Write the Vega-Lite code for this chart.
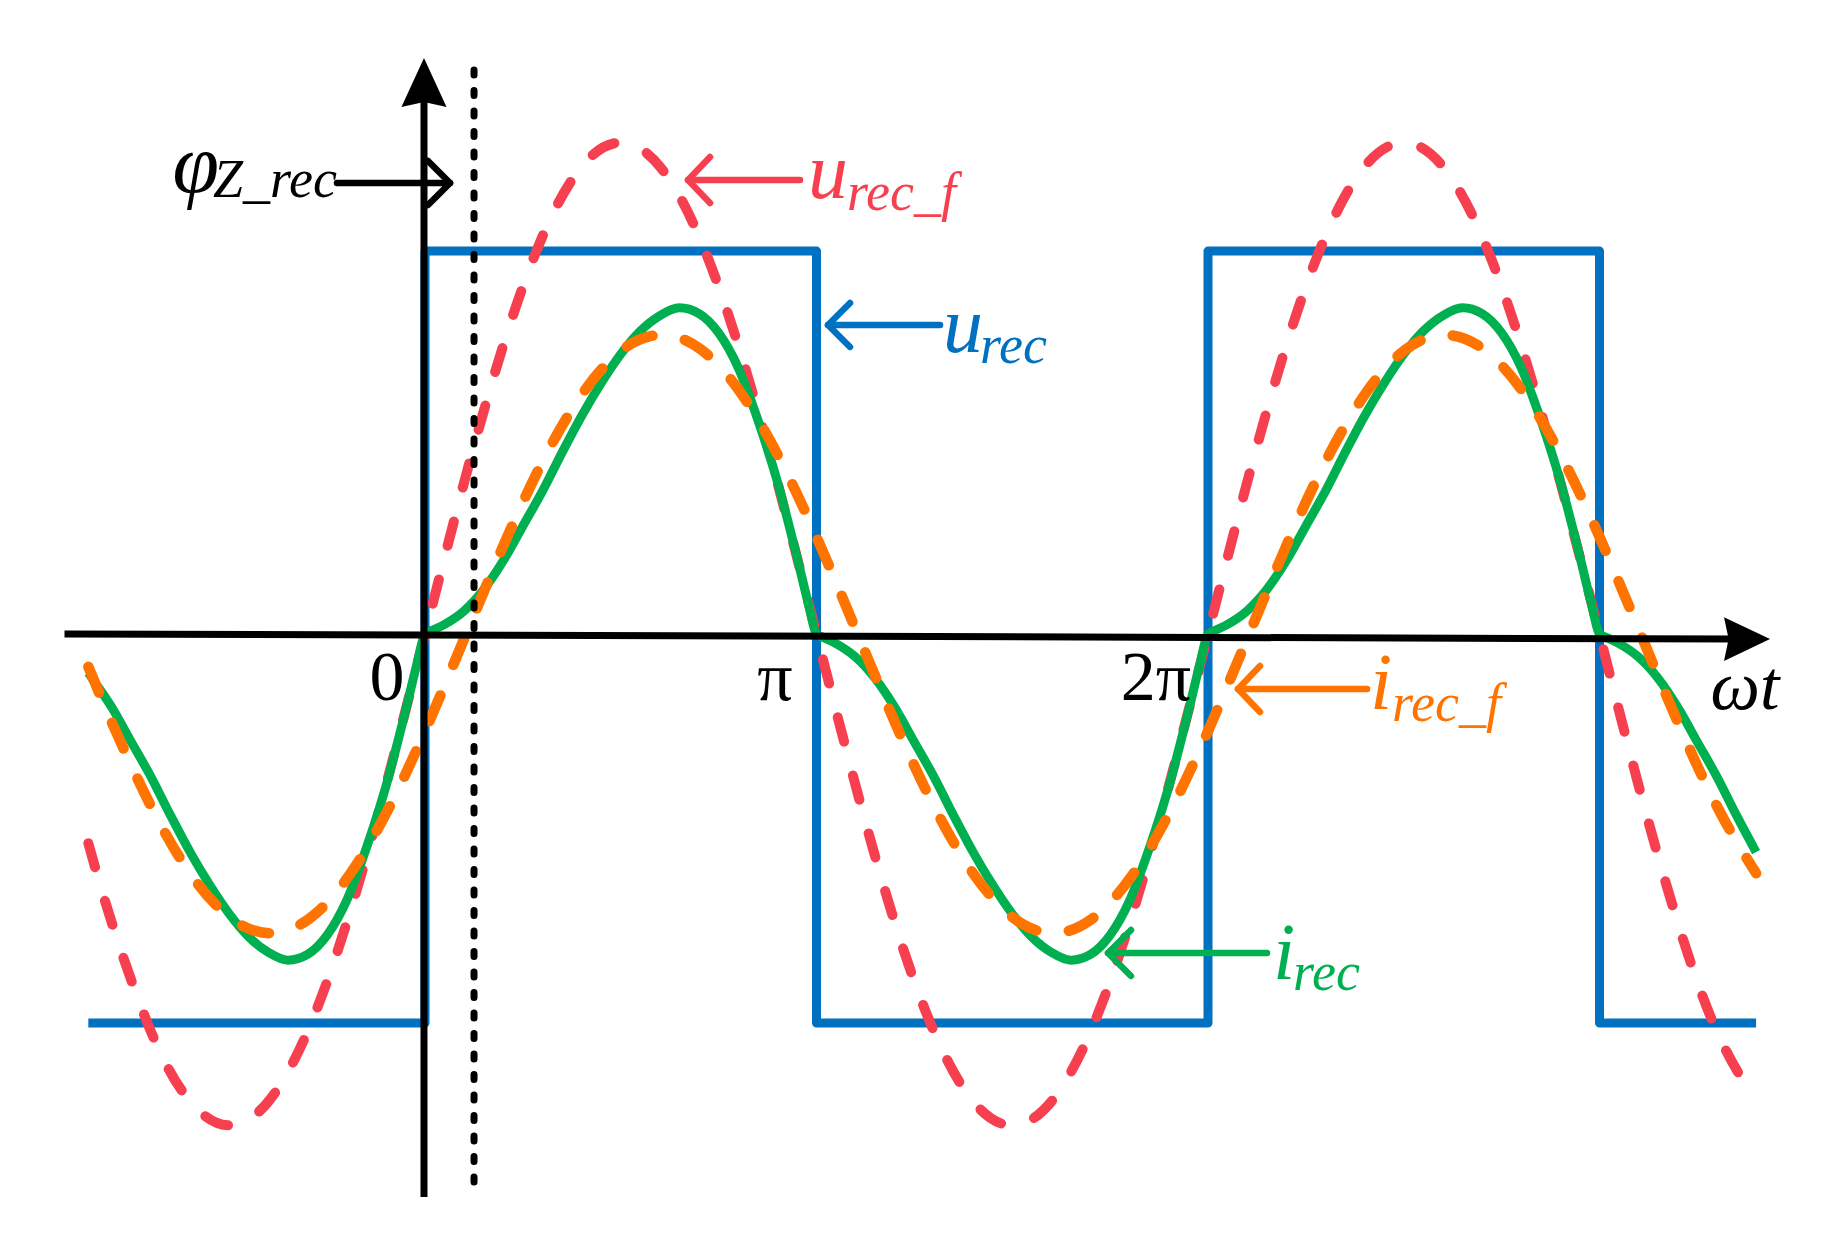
{
"$schema": "https://vega.github.io/schema/vega-lite/v6.json",
"width": 1840, "height": 1240, "padding": 0, "autosize": {"type": "none"},
"config": {"view": {"stroke": null}},
"datasets": {
"blue": [
{"s":"u_rec","i":0,"t":-0.86,"v":-1.008},{"s":"u_rec","i":1,"t":0,"v":-1.008},{"s":"u_rec","i":2,"t":0,"v":0.992},{"s":"u_rec","i":3,"t":1,"v":0.992},{"s":"u_rec","i":4,"t":1,"v":-1.008},{"s":"u_rec","i":5,"t":2,"v":-1.008},{"s":"u_rec","i":6,"t":2,"v":0.992},{"s":"u_rec","i":7,"t":3,"v":0.992},{"s":"u_rec","i":8,"t":3,"v":-1.008},{"s":"u_rec","i":9,"t":3.4,"v":-1.008}
],
"red": [
{"s":"u_rec_f","t":-0.86,"v":-0.542},{"s":"u_rec_f","t":-0.8,"v":-0.748},{"s":"u_rec_f","t":-0.7,"v":-1.03},{"s":"u_rec_f","t":-0.6,"v":-1.211},{"s":"u_rec_f","t":-0.5,"v":-1.273},{"s":"u_rec_f","t":-0.4,"v":-1.211},{"s":"u_rec_f","t":-0.3,"v":-1.03},{"s":"u_rec_f","t":-0.2,"v":-0.748},{"s":"u_rec_f","t":-0.1,"v":-0.393},{"s":"u_rec_f","t":0,"v":0},
{"s":"u_rec_f","t":0.1,"v":0.393},{"s":"u_rec_f","t":0.2,"v":0.748},{"s":"u_rec_f","t":0.3,"v":1.03},{"s":"u_rec_f","t":0.4,"v":1.211},{"s":"u_rec_f","t":0.5,"v":1.273},{"s":"u_rec_f","t":0.6,"v":1.211},{"s":"u_rec_f","t":0.7,"v":1.03},{"s":"u_rec_f","t":0.8,"v":0.748},{"s":"u_rec_f","t":0.9,"v":0.393},{"s":"u_rec_f","t":1,"v":0},
{"s":"u_rec_f","t":1.1,"v":-0.393},{"s":"u_rec_f","t":1.2,"v":-0.748},{"s":"u_rec_f","t":1.3,"v":-1.03},{"s":"u_rec_f","t":1.4,"v":-1.211},{"s":"u_rec_f","t":1.5,"v":-1.273},{"s":"u_rec_f","t":1.6,"v":-1.211},{"s":"u_rec_f","t":1.7,"v":-1.03},{"s":"u_rec_f","t":1.8,"v":-0.748},{"s":"u_rec_f","t":1.9,"v":-0.393},{"s":"u_rec_f","t":2,"v":0},
{"s":"u_rec_f","t":2.1,"v":0.393},{"s":"u_rec_f","t":2.2,"v":0.748},{"s":"u_rec_f","t":2.3,"v":1.03},{"s":"u_rec_f","t":2.4,"v":1.211},{"s":"u_rec_f","t":2.5,"v":1.273},{"s":"u_rec_f","t":2.6,"v":1.211},{"s":"u_rec_f","t":2.7,"v":1.03},{"s":"u_rec_f","t":2.8,"v":0.748},{"s":"u_rec_f","t":2.9,"v":0.393},{"s":"u_rec_f","t":3,"v":0},
{"s":"u_rec_f","t":3.1,"v":-0.393},{"s":"u_rec_f","t":3.2,"v":-0.748},{"s":"u_rec_f","t":3.3,"v":-1.03},{"s":"u_rec_f","t":3.4,"v":-1.211}
],
"orange": [
{"s":"i_rec_f","t":-0.86,"v":-0.085},{"s":"i_rec_f","t":-0.795,"v":-0.24},{"s":"i_rec_f","t":-0.695,"v":-0.456},{"s":"i_rec_f","t":-0.595,"v":-0.627},{"s":"i_rec_f","t":-0.495,"v":-0.737},{"s":"i_rec_f","t":-0.395,"v":-0.775},{"s":"i_rec_f","t":-0.295,"v":-0.737},{"s":"i_rec_f","t":-0.195,"v":-0.627},{"s":"i_rec_f","t":-0.095,"v":-0.456},{"s":"i_rec_f","t":0.005,"v":-0.24},
{"s":"i_rec_f","t":0.105,"v":0},{"s":"i_rec_f","t":0.205,"v":0.24},{"s":"i_rec_f","t":0.305,"v":0.456},{"s":"i_rec_f","t":0.405,"v":0.627},{"s":"i_rec_f","t":0.505,"v":0.737},{"s":"i_rec_f","t":0.605,"v":0.775},{"s":"i_rec_f","t":0.705,"v":0.737},{"s":"i_rec_f","t":0.805,"v":0.627},{"s":"i_rec_f","t":0.905,"v":0.456},{"s":"i_rec_f","t":1.005,"v":0.24},
{"s":"i_rec_f","t":1.105,"v":0},{"s":"i_rec_f","t":1.205,"v":-0.24},{"s":"i_rec_f","t":1.305,"v":-0.456},{"s":"i_rec_f","t":1.405,"v":-0.627},{"s":"i_rec_f","t":1.505,"v":-0.737},{"s":"i_rec_f","t":1.605,"v":-0.775},{"s":"i_rec_f","t":1.705,"v":-0.737},{"s":"i_rec_f","t":1.805,"v":-0.627},{"s":"i_rec_f","t":1.905,"v":-0.456},{"s":"i_rec_f","t":2.005,"v":-0.24},
{"s":"i_rec_f","t":2.105,"v":0},{"s":"i_rec_f","t":2.205,"v":0.24},{"s":"i_rec_f","t":2.305,"v":0.456},{"s":"i_rec_f","t":2.405,"v":0.627},{"s":"i_rec_f","t":2.505,"v":0.737},{"s":"i_rec_f","t":2.605,"v":0.775},{"s":"i_rec_f","t":2.705,"v":0.737},{"s":"i_rec_f","t":2.805,"v":0.627},{"s":"i_rec_f","t":2.905,"v":0.456},{"s":"i_rec_f","t":3.005,"v":0.24},
{"s":"i_rec_f","t":3.105,"v":0},{"s":"i_rec_f","t":3.205,"v":-0.24},{"s":"i_rec_f","t":3.305,"v":-0.456},{"s":"i_rec_f","t":3.4,"v":-0.62}
],
"green": [
{"s":"i_rec","t":-0.86,"v":-0.1},{"s":"i_rec","t":-0.85,"v":-0.115},{"s":"i_rec","t":-0.8,"v":-0.19},{"s":"i_rec","t":-0.75,"v":-0.28},{"s":"i_rec","t":-0.7,"v":-0.37},{"s":"i_rec","t":-0.65,"v":-0.47},{"s":"i_rec","t":-0.6,"v":-0.565},{"s":"i_rec","t":-0.55,"v":-0.65},{"s":"i_rec","t":-0.5,"v":-0.725},{"s":"i_rec","t":-0.45,"v":-0.785},{"s":"i_rec","t":-0.4,"v":-0.825},{"s":"i_rec","t":-0.35,"v":-0.845},{"s":"i_rec","t":-0.3,"v":-0.83},{"s":"i_rec","t":-0.25,"v":-0.78},{"s":"i_rec","t":-0.2,"v":-0.69},{"s":"i_rec","t":-0.15,"v":-0.555},{"s":"i_rec","t":-0.1,"v":-0.395},{"s":"i_rec","t":-0.05,"v":-0.2},{"s":"i_rec","t":-0.02,"v":-0.075},
{"s":"i_rec","t":0,"v":0},{"s":"i_rec","t":0.02,"v":0.01},{"s":"i_rec","t":0.05,"v":0.025},{"s":"i_rec","t":0.1,"v":0.06},{"s":"i_rec","t":0.15,"v":0.115},{"s":"i_rec","t":0.2,"v":0.19},{"s":"i_rec","t":0.25,"v":0.28},{"s":"i_rec","t":0.3,"v":0.37},{"s":"i_rec","t":0.35,"v":0.47},{"s":"i_rec","t":0.4,"v":0.565},{"s":"i_rec","t":0.45,"v":0.65},{"s":"i_rec","t":0.5,"v":0.725},{"s":"i_rec","t":0.55,"v":0.785},{"s":"i_rec","t":0.6,"v":0.825},{"s":"i_rec","t":0.65,"v":0.845},{"s":"i_rec","t":0.7,"v":0.83},{"s":"i_rec","t":0.75,"v":0.78},{"s":"i_rec","t":0.8,"v":0.69},{"s":"i_rec","t":0.85,"v":0.555},{"s":"i_rec","t":0.9,"v":0.395},{"s":"i_rec","t":0.95,"v":0.2},{"s":"i_rec","t":0.98,"v":0.075},
{"s":"i_rec","t":1,"v":0},{"s":"i_rec","t":1.02,"v":-0.01},{"s":"i_rec","t":1.05,"v":-0.025},{"s":"i_rec","t":1.1,"v":-0.06},{"s":"i_rec","t":1.15,"v":-0.115},{"s":"i_rec","t":1.2,"v":-0.19},{"s":"i_rec","t":1.25,"v":-0.28},{"s":"i_rec","t":1.3,"v":-0.37},{"s":"i_rec","t":1.35,"v":-0.47},{"s":"i_rec","t":1.4,"v":-0.565},{"s":"i_rec","t":1.45,"v":-0.65},{"s":"i_rec","t":1.5,"v":-0.725},{"s":"i_rec","t":1.55,"v":-0.785},{"s":"i_rec","t":1.6,"v":-0.825},{"s":"i_rec","t":1.65,"v":-0.845},{"s":"i_rec","t":1.7,"v":-0.83},{"s":"i_rec","t":1.75,"v":-0.78},{"s":"i_rec","t":1.8,"v":-0.69},{"s":"i_rec","t":1.85,"v":-0.555},{"s":"i_rec","t":1.9,"v":-0.395},{"s":"i_rec","t":1.95,"v":-0.2},{"s":"i_rec","t":1.98,"v":-0.075},
{"s":"i_rec","t":2,"v":0},{"s":"i_rec","t":2.02,"v":0.01},{"s":"i_rec","t":2.05,"v":0.025},{"s":"i_rec","t":2.1,"v":0.06},{"s":"i_rec","t":2.15,"v":0.115},{"s":"i_rec","t":2.2,"v":0.19},{"s":"i_rec","t":2.25,"v":0.28},{"s":"i_rec","t":2.3,"v":0.37},{"s":"i_rec","t":2.35,"v":0.47},{"s":"i_rec","t":2.4,"v":0.565},{"s":"i_rec","t":2.45,"v":0.65},{"s":"i_rec","t":2.5,"v":0.725},{"s":"i_rec","t":2.55,"v":0.785},{"s":"i_rec","t":2.6,"v":0.825},{"s":"i_rec","t":2.65,"v":0.845},{"s":"i_rec","t":2.7,"v":0.83},{"s":"i_rec","t":2.75,"v":0.78},{"s":"i_rec","t":2.8,"v":0.69},{"s":"i_rec","t":2.85,"v":0.555},{"s":"i_rec","t":2.9,"v":0.395},{"s":"i_rec","t":2.95,"v":0.2},{"s":"i_rec","t":2.98,"v":0.075},
{"s":"i_rec","t":3,"v":0},{"s":"i_rec","t":3.02,"v":-0.01},{"s":"i_rec","t":3.05,"v":-0.025},{"s":"i_rec","t":3.1,"v":-0.06},{"s":"i_rec","t":3.15,"v":-0.115},{"s":"i_rec","t":3.2,"v":-0.19},{"s":"i_rec","t":3.25,"v":-0.28},{"s":"i_rec","t":3.3,"v":-0.37},{"s":"i_rec","t":3.35,"v":-0.47},{"s":"i_rec","t":3.4,"v":-0.565}
],
"lines": [
{"s":"axis","k":"solid","id":"hx","i":0,"t":-0.9208,"v":0},{"s":"axis","k":"solid","id":"hx","i":1,"t":3.3589,"v":-0.013},
{"s":"axis","k":"solid","id":"vy","i":0,"t":-0.0026,"v":-1.4585},{"s":"axis","k":"solid","id":"vy","i":1,"t":-0.0026,"v":1.38},
{"s":"axis","k":"dot","id":"dot","i":0,"t":0.1252,"v":1.4611},{"s":"axis","k":"dot","id":"dot","i":1,"t":0.1252,"v":-1.4585}
],
"heads": [
{"s":"axis","dir":"up","t":-0.0026,"v":1.4288},
{"s":"axis","dir":"right","t":3.3768,"v":-0.013}
],
"arrows": [
{"s":"axis","id":"phis","i":0,"t":-0.2248,"v":1.1684},{"s":"axis","id":"phis","i":1,"t":0.0639,"v":1.1684},
{"s":"axis","id":"phih","i":0,"t":0.0077,"v":1.2254},{"s":"axis","id":"phih","i":1,"t":0.0639,"v":1.1684},{"s":"axis","id":"phih","i":2,"t":0.0077,"v":1.1114},
{"s":"u_rec_f","id":"urfs","i":0,"t":0.9579,"v":1.1762},{"s":"u_rec_f","id":"urfs","i":1,"t":0.6718,"v":1.1762},
{"s":"u_rec_f","id":"urfh","i":0,"t":0.728,"v":1.2358},{"s":"u_rec_f","id":"urfh","i":1,"t":0.6718,"v":1.1762},{"s":"u_rec_f","id":"urfh","i":2,"t":0.728,"v":1.1166},
{"s":"u_rec","id":"urs","i":0,"t":1.3155,"v":0.8005},{"s":"u_rec","id":"urs","i":1,"t":1.0294,"v":0.8005},
{"s":"u_rec","id":"urh","i":0,"t":1.0856,"v":0.8575},{"s":"u_rec","id":"urh","i":1,"t":1.0294,"v":0.8005},{"s":"u_rec","id":"urh","i":2,"t":1.0856,"v":0.7435},
{"s":"i_rec_f","id":"irfs","i":0,"t":2.4061,"v":-0.1425},{"s":"i_rec_f","id":"irfs","i":1,"t":2.0766,"v":-0.1425},
{"s":"i_rec_f","id":"irfh","i":0,"t":2.1328,"v":-0.0829},{"s":"i_rec_f","id":"irfh","i":1,"t":2.0766,"v":-0.1425},{"s":"i_rec_f","id":"irfh","i":2,"t":2.1328,"v":-0.2021},
{"s":"i_rec","id":"irs","i":0,"t":2.1507,"v":-0.8264},{"s":"i_rec","id":"irs","i":1,"t":1.7446,"v":-0.8264},
{"s":"i_rec","id":"irh","i":0,"t":1.8033,"v":-0.7668},{"s":"i_rec","id":"irh","i":1,"t":1.7446,"v":-0.8264},{"s":"i_rec","id":"irh","i":2,"t":1.8033,"v":-0.886}
],
"labels": [
{"k":"phi","s":"axis","txt":"φ","t":-0.6450,"v":1.1450},
{"k":"sub","s":"axis","txt":"Z_rec","t":-0.5415,"v":1.1321},
{"k":"main","s":"u_rec_f","txt":"u","t":0.9783,"v":1.1295},
{"k":"sub","s":"u_rec_f","txt":"rec_f","t":1.0779,"v":1.0984},
{"k":"main","s":"u_rec","txt":"u","t":1.3231,"v":0.7306},
{"k":"sub","s":"u_rec","txt":"rec","t":1.4176,"v":0.7021},
{"k":"main","s":"i_rec_f","txt":"i","t":2.4138,"v":-0.1943},
{"k":"sub","s":"i_rec_f","txt":"rec_f","t":2.47,"v":-0.2254},
{"k":"main","s":"i_rec","txt":"i","t":2.166,"v":-0.8938},
{"k":"sub","s":"i_rec","txt":"rec","t":2.2171,"v":-0.9223},
{"k":"tick","s":"axis","txt":"0","t":-0.0971,"v":-0.171},
{"k":"tick","s":"axis","txt":"π","t":0.894,"v":-0.171},
{"k":"tick","s":"axis","txt":"2π","t":1.8672,"v":-0.171},
{"k":"tickit","s":"axis","txt":"ωt","t":3.3716,"v":-0.1943}
]
},
"encoding": {
"x": {"field": "t", "type": "quantitative", "scale": {"domain": [-1.0856, 3.6143], "nice": false, "zero": false}, "axis": null},
"y": {"field": "v", "type": "quantitative", "scale": {"domain": [-1.5699, 1.6425], "nice": false, "zero": false}, "axis": null},
"color": {"field": "s", "type": "nominal", "legend": null, "scale": {"domain": ["u_rec","u_rec_f","i_rec_f","i_rec","axis"], "range": ["#0070C0","#F7404F","#FF7300","#00B050","#000000"]}}
},
"layer": [
{"data": {"name": "blue"}, "mark": {"type": "line", "strokeWidth": 9, "strokeJoin": "round"}, "encoding": {"order": {"field": "i", "type": "quantitative"}}},
{"data": {"name": "red"}, "mark": {"type": "line", "interpolate": "natural", "strokeWidth": 10, "strokeCap": "round", "strokeDash": [25, 35]}},
{"data": {"name": "green"}, "mark": {"type": "line", "interpolate": "monotone", "strokeWidth": 9}},
{"data": {"name": "orange"}, "mark": {"type": "line", "interpolate": "natural", "strokeWidth": 10.5, "strokeCap": "round", "strokeDash": [28, 33]}},
{"data": {"name": "lines"}, "transform": [{"filter": "datum.k == 'solid'"}], "mark": {"type": "line", "strokeWidth": 7}, "encoding": {"detail": {"field": "id"}, "order": {"field": "i", "type": "quantitative"}}},
{"data": {"name": "lines"}, "transform": [{"filter": "datum.k == 'dot'"}], "mark": {"type": "line", "strokeWidth": 7, "strokeCap": "round", "strokeDash": [5, 15.5]}, "encoding": {"detail": {"field": "id"}, "order": {"field": "i", "type": "quantitative"}}},
{"data": {"name": "heads"}, "transform": [{"filter": "datum.dir == 'up'"}], "mark": {"type": "point", "filled": true, "opacity": 1, "strokeWidth": 0, "size": 2401, "shape": "M0,-1L0.92,1L0,0.8L-0.92,1Z"}},
{"data": {"name": "heads"}, "transform": [{"filter": "datum.dir == 'right'"}], "mark": {"type": "point", "filled": true, "opacity": 1, "strokeWidth": 0, "size": 2116, "shape": "M1,0L-1,0.95L-0.8,0L-1,-0.95Z"}},
{"data": {"name": "arrows"}, "mark": {"type": "line", "strokeWidth": 6.5, "strokeCap": "round", "strokeJoin": "round"}, "encoding": {"detail": {"field": "id"}, "order": {"field": "i", "type": "quantitative"}}},
{"data": {"name": "labels"}, "transform": [{"filter": "datum.k == 'phi'"}], "mark": {"type": "text", "font": "Liberation Serif", "fontStyle": "italic", "fontSize": 84, "align": "left", "baseline": "alphabetic"}, "encoding": {"text": {"field": "txt"}}},
{"data": {"name": "labels"}, "transform": [{"filter": "datum.k == 'main'"}], "mark": {"type": "text", "font": "Liberation Serif", "fontStyle": "italic", "fontSize": 80, "align": "left", "baseline": "alphabetic"}, "encoding": {"text": {"field": "txt"}}},
{"data": {"name": "labels"}, "transform": [{"filter": "datum.k == 'sub'"}], "mark": {"type": "text", "font": "Liberation Serif", "fontStyle": "italic", "fontSize": 54, "align": "left", "baseline": "alphabetic"}, "encoding": {"text": {"field": "txt"}}},
{"data": {"name": "labels"}, "transform": [{"filter": "datum.k == 'tick'"}], "mark": {"type": "text", "font": "Liberation Serif", "fontSize": 70, "align": "center", "baseline": "alphabetic"}, "encoding": {"text": {"field": "txt"}}},
{"data": {"name": "labels"}, "transform": [{"filter": "datum.k == 'tickit'"}], "mark": {"type": "text", "font": "Liberation Serif", "fontStyle": "italic", "fontSize": 70, "align": "center", "baseline": "alphabetic"}, "encoding": {"text": {"field": "txt"}}}
]
}
